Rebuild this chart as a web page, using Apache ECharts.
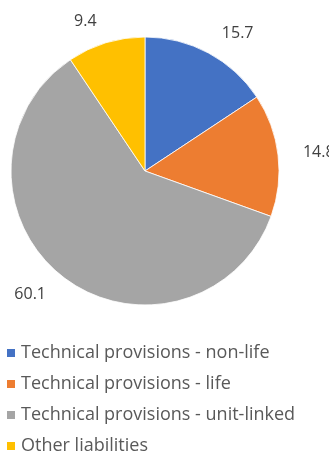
<!DOCTYPE html>
<html>
<head>
<meta charset="utf-8">
<script src="https://cdn.jsdelivr.net/npm/echarts@6/dist/echarts.min.js"></script>
<style>
  html, body { margin: 0; padding: 0; background: #fff; }
  #chart { width: 329px; height: 456px; }
</style>
</head>
<body>
<div id="chart"></div>
<script>
// Liability breakdown shares
const categories = [
  'Technical provisions - non-life',
  'Technical provisions - life',
  'Technical provisions - unit-linked',
  'Other liabilities'
];
const values = [15.7, 14.8, 60.1, 9.4];
const colors = ['#4472C4', '#ED7D31', '#A5A5A5', '#FFC000'];

const chart = echarts.init(document.getElementById('chart'));
chart.setOption({
  animation: false,
  color: colors,
  legend: {
    orient: 'vertical',
    left: 5,
    top: 344,
    padding: 0,
    icon: 'rect',
    itemWidth: 10,
    itemHeight: 10,
    itemGap: 13,
    textStyle: {
      fontFamily: 'Open Sans',
      fontSize: 18,
      lineHeight: 18,
      color: '#595959'
    },
    data: categories
  },
  series: [{
    type: 'pie',
    center: [145, 171],
    radius: [0, 134],
    startAngle: 90,
    clockwise: true,
    avoidLabelOverlap: false,
    itemStyle: { borderColor: '#fff', borderWidth: 0.8 },
    label: {
      show: true,
      position: 'outside',
      formatter: p => p.value.toFixed(1),
      fontFamily: 'Open Sans',
      fontSize: 16,
      color: '#404040',
      distanceToLabelLine: 3
    },
    labelLine: { show: false, length: 22, length2: 0 },
    data: categories.map((name, i) => ({ name, value: values[i] }))
  }]
});
</script>
</body>
</html>
